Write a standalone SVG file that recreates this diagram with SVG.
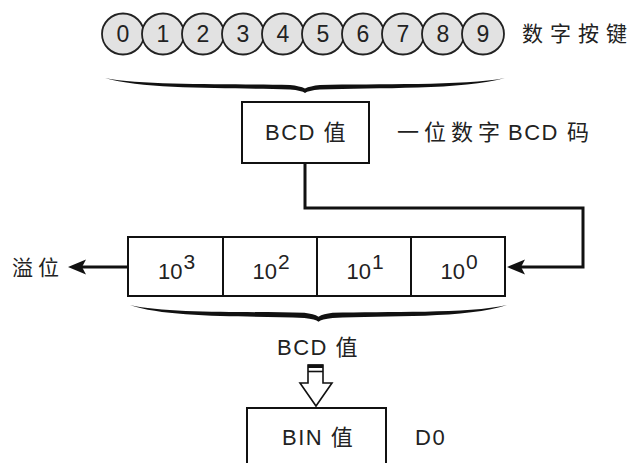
<svg xmlns="http://www.w3.org/2000/svg" width="635" height="463" viewBox="0 0 635 463">
<style>
text{font-family:"Liberation Sans","Noto Sans CJK SC",Arial,sans-serif;fill:#222}
.cjk{font-family:"Noto Sans CJK SC","Liberation Sans",sans-serif}
.key ellipse{fill:#e2e2e2;stroke:#222;stroke-width:1.8}
.key text{text-anchor:middle}
.box{fill:#fff;stroke:#111;stroke-width:2}
.conn{fill:none;stroke:#111;stroke-width:3}
.brace{fill:#111}
</style>
<defs>
<marker id="ah" markerUnits="userSpaceOnUse" viewBox="0 -8 20 16" markerWidth="20" markerHeight="16" refX="4" refY="0" orient="auto">
<path d="M18,0 L0,-7.5 L4,0 L0,7.5 Z" fill="#111"/>
</marker>
<path id="bracePath" d="M0,0 C40,12 130,9.5 185,11.5 Q197,12.5 200,15 Q203,12.5 215,11.5 C270,9.5 360,12 400,0 C360,8 270,5.5 215,7 Q205,8 200,10.5 Q195,8 185,7 C130,5.5 40,8 0,0 Z"/>
</defs>

<g id="keys" class="key" font-size="23">
<g id="key0"><ellipse cx="123" cy="34" rx="21" ry="20.5"/><text x="123" y="42" font-size="23">0</text></g>
<g id="key1"><ellipse cx="163" cy="34" rx="21" ry="20.5"/><text x="163" y="42" font-size="23">1</text></g>
<g id="key2"><ellipse cx="203" cy="34" rx="21" ry="20.5"/><text x="203" y="42" font-size="23">2</text></g>
<g id="key3"><ellipse cx="243" cy="34" rx="21" ry="20.5"/><text x="243" y="42" font-size="23">3</text></g>
<g id="key4"><ellipse cx="283" cy="34" rx="21" ry="20.5"/><text x="283" y="42" font-size="23">4</text></g>
<g id="key5"><ellipse cx="323" cy="34" rx="21" ry="20.5"/><text x="323" y="42" font-size="23">5</text></g>
<g id="key6"><ellipse cx="363" cy="34" rx="21" ry="20.5"/><text x="363" y="42" font-size="23">6</text></g>
<g id="key7"><ellipse cx="403" cy="34" rx="21" ry="20.5"/><text x="403" y="42" font-size="23">7</text></g>
<g id="key8"><ellipse cx="443" cy="34" rx="21" ry="20.5"/><text x="443" y="42" font-size="23">8</text></g>
<g id="key9"><ellipse cx="483" cy="34" rx="21" ry="20.5"/><text x="483" y="42" font-size="23">9</text></g>
</g>
<text id="keys-label" class="cjk" x="522" y="41" font-size="21" letter-spacing="7">数字按键</text>

<use id="brace-top" href="#bracePath" class="brace" transform="translate(105,78)"/>

<g id="bcd-box">
<rect class="box" x="242" y="102" width="127" height="61"/>
<text x="265" y="140" font-size="22" letter-spacing="1.5">BCD <tspan class="cjk">值</tspan></text>
</g>
<text id="bcd-label" font-size="22"><tspan class="cjk" x="397" y="140" letter-spacing="5">一位数字</tspan><tspan x="508" y="140" letter-spacing="1.5">BCD</tspan><tspan class="cjk" x="567" y="140">码</tspan></text>

<g id="reg3"><rect class="box" x="128" y="237" width="95" height="59"/><text x="158" y="279" font-size="22">10</text><text x="183.5" y="269" font-size="21">3</text></g>
<g id="reg2"><rect class="box" x="223" y="237" width="94" height="59"/><text x="252.5" y="279" font-size="22">10</text><text x="278" y="269" font-size="21">2</text></g>
<g id="reg1"><rect class="box" x="317" y="237" width="94" height="59"/><text x="346.5" y="279" font-size="22">10</text><text x="372" y="269" font-size="21">1</text></g>
<g id="reg0"><rect class="box" x="411" y="237" width="94" height="59"/><text x="440.5" y="279" font-size="22">10</text><text x="466" y="269" font-size="21">0</text></g>

<text id="overflow" class="cjk" x="12" y="275" font-size="21" letter-spacing="5">溢位</text>

<g id="connectors">
<path class="conn" d="M305,163 V208 H583 V267 H521" marker-end="url(#ah)"/>
<path class="conn" d="M128,267 H82" marker-end="url(#ah)"/>
</g>

<use id="brace-bottom" href="#bracePath" class="brace" transform="translate(130,305) scale(0.9425,1.12)"/>
<text id="bcd-value" x="277" y="355" font-size="22" letter-spacing="1.5">BCD <tspan class="cjk">值</tspan></text>

<g id="convert-arrow">
<path d="M308,383 V365 H323 V383 H332 L316,406 L300,383 Z" fill="#fff" stroke="#111" stroke-width="1.6"/>
<rect x="308" y="364.5" width="15" height="3.5" fill="#111"/>
<line x1="308" y1="371.5" x2="323" y2="371.5" stroke="#111" stroke-width="1.6"/>
</g>

<g id="bin-box">
<rect class="box" x="247" y="408" width="139" height="70"/>
<text x="282" y="445" font-size="22" letter-spacing="1.5">BIN <tspan class="cjk">值</tspan></text>
</g>
<text id="d0" x="415" y="445" font-size="22" letter-spacing="1.5">D0</text>
</svg>
